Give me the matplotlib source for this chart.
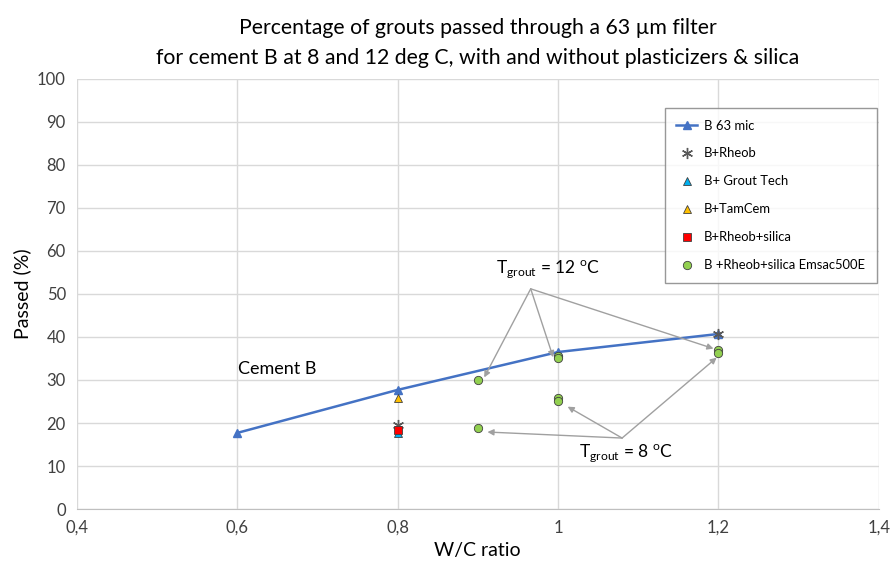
import matplotlib.pyplot as plt
import matplotlib.ticker as ticker

# cement B, 63 micron filter
wc_b = [0.6, 0.8, 1.0, 1.2]
passed_b = [17.7, 27.7, 36.5, 40.7]

wc_rheob = [0.8, 1.2]
passed_rheob = [19.5, 40.7]

wc_grouttech = [0.8]
passed_grouttech = [17.6]

wc_tamcem = [0.8]
passed_tamcem = [25.8]

wc_rheob_silica = [0.8]
passed_rheob_silica = [18.4]

wc_emsac = [0.9, 0.9, 1.0, 1.0, 1.0, 1.0, 1.2, 1.2]
passed_emsac = [30.0, 18.8, 35.6, 35.1, 25.9, 25.0, 37.0, 36.3]

x_ticks = [0.4, 0.6, 0.8, 1.0, 1.2, 1.4]
x_tick_labels = ["0,4", "0,6", "0,8", "1", "1,2", "1,4"]

TITLE = ("Percentage of grouts passed through a 63 \u00b5m filter\n"
         "for cement B at 8 and 12 deg C, with and without plasticizers & silica")

plt.rcParams['font.family'] = ['Lato', 'DejaVu Sans']

fig = plt.figure(figsize=(8.92, 5.64), dpi=100)
ax_box = [0.0863, 0.0975, 0.8987, 0.7625]
ax = fig.add_axes(ax_box)

ax.plot(wc_b, passed_b, color='#4472C4', lw=1.8, marker='^', ms=6,
        label='B 63 mic', zorder=3)
ax.plot(wc_rheob, passed_rheob, ls='none', marker=(6, 2, 0), ms=8,
        mec='#595959', mew=1.0, label='B+Rheob', zorder=4)
ax.plot(wc_grouttech, passed_grouttech, ls='none', marker='^', ms=6,
        mfc='#00B0F0', mec='#404040', mew=0.6, label='B+ Grout Tech', zorder=4)
ax.plot(wc_tamcem, passed_tamcem, ls='none', marker='^', ms=6,
        mfc='#FFC000', mec='#404040', mew=0.6, label='B+TamCem', zorder=4)
ax.plot(wc_rheob_silica, passed_rheob_silica, ls='none', marker='s', ms=6,
        mfc='#FF0000', mec='#404040', mew=0.6, label='B+Rheob+silica', zorder=5)
ax.plot(wc_emsac, passed_emsac, ls='none', marker='o', ms=6,
        mfc='#92D050', mec='#404040', mew=0.6,
        label='B +Rheob+silica Emsac500E', zorder=5)

# temperature annotations
arrow = dict(arrowstyle='-|>', color='#A0A0A0', lw=1.0, mutation_scale=9,
             shrinkA=0, shrinkB=0)
for tx, ty in [(0.908, 30.6), (0.994, 35.3), (1.194, 37.3)]:
    ax.annotate('', xy=(tx, ty), xytext=(0.966, 51.2), arrowprops=arrow)
for tx, ty in [(0.912, 17.9), (1.012, 23.8), (1.198, 35.2)]:
    ax.annotate('', xy=(tx, ty), xytext=(1.080, 16.5), arrowprops=arrow)
ax.text(0.988, 55.5, r'T$_{\mathregular{grout}}$ = 12 $^{\mathregular{o}}$C',
        fontsize=12.5, ha='center', va='center')
ax.text(1.085, 12.8, r'T$_{\mathregular{grout}}$ = 8 $^{\mathregular{o}}$C',
        fontsize=12.5, ha='center', va='center')
ax.text(0.601, 32.5, 'Cement B', fontsize=13, ha='left', va='center')

ax.set_xlim(0.4, 1.4)
ax.set_ylim(0, 100)
ax.set_xticks(x_ticks)
ax.set_xticklabels(x_tick_labels)
ax.yaxis.set_major_locator(ticker.MultipleLocator(10))
ax.grid(True, color='#D9D9D9', lw=1.0)
ax.set_axisbelow(True)
for side in ['top', 'right', 'left']:
    ax.spines[side].set_visible(False)
ax.spines['bottom'].set_color('#BFBFBF')
ax.tick_params(length=0, labelsize=12, colors='#404040', pad=8)

ax.set_xlabel('W/C ratio', fontsize=14)
ax.set_ylabel('Passed (%)', fontsize=14)
fig.text(ax_box[0] + ax_box[2] / 2, 0.968, TITLE, fontsize=15.3,
         ha='center', va='top', linespacing=1.6)

leg = ax.legend(loc='upper right', bbox_to_anchor=(0.9975, 0.933), fontsize=9.4,
                frameon=True, fancybox=False, edgecolor='#7F7F7F',
                labelspacing=1.22, handlelength=1.6, borderpad=0.9,
                handletextpad=0.5, borderaxespad=0)
leg.get_frame().set_linewidth(1.0)

fig.savefig('out.png', dpi=100)
